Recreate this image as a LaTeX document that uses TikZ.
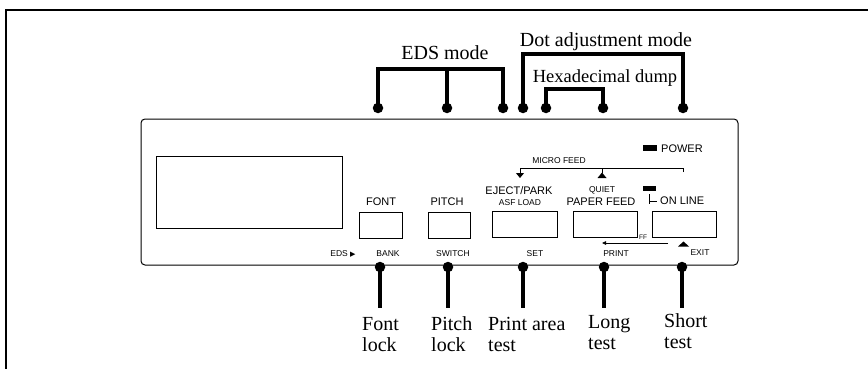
\documentclass[tikz,border=0pt]{standalone}
\usepackage{fontspec}
\setmainfont{Liberation Serif}
\setsansfont{Liberation Sans}
\newfontfamily\symfont{DejaVu Sans}
\usetikzlibrary{arrows.meta,positioning}

\begin{document}
\begin{tikzpicture}[
      x=1pt, y=-1pt,
      frame/.style={line width=1.2pt},
      panel/.style={draw, rounded corners=4pt, line width=1pt, inner sep=0pt},
      key/.style={draw, line width=1pt, minimum height=26pt, inner sep=0pt},
      big/.style={font=\sffamily\fontsize{11}{12}\selectfont, inner sep=0pt},
      small/.style={font=\sffamily\fontsize{8.5}{10}\selectfont, inner sep=0pt},
      tiny/.style={font=\sffamily\fontsize{6.5}{7}\selectfont, inner sep=0pt},
      call/.style={font=\fontsize{20}{21}\selectfont, inner sep=0pt, align=left},
      pin/.style={line width=3.4pt},
      dot/.style={circle, fill, inner sep=0pt, minimum size=10.5pt},
      thinline/.style={line width=0.8pt},
    ]
    \useasboundingbox (0,0) rectangle (868,369);
    \draw[frame] (868,10) -- (6,10) -- (6,369);

    % front panel
    \node[panel, minimum width=597pt, minimum height=146pt] (panel) at (439.5,192) {};
    \node[key, minimum width=186pt, minimum height=72pt] (display) at (249,192) {};

    \node[key, minimum width=43pt] (fontkey) at (380.5,225) {};
    \node[key, minimum width=42pt] (pitchkey) at (449,225) {};
    \node[key, minimum width=65pt] (ejectkey) at (524.5,224) {};
    \node[key, minimum width=64pt] (paperkey) at (605,224) {};
    \node[key, minimum width=64pt] (onlinekey) at (684,224) {};

    \node[big, anchor=base] (font) at (381,205.5) {FONT};
    \node[big, anchor=base] (pitch) at (447,205.5) {PITCH};
    \node[small, anchor=base] (asf) at (520,205) {ASF LOAD};
    \node[big, anchor=base] (eject) at (519,194) {EJECT/PARK};
    \node[big, anchor=base] (paper) at (601,205) {PAPER FEED};
    \node[small, anchor=base] (quiet) at (602,192.5) {QUIET};
    \node[big, anchor=base west] (online) at (660,204) {ON LINE};
    \node[tiny, anchor=base west] (ff) at (639,239) {FF};

    % lamps
    \node[fill, minimum width=13pt, minimum height=5.5pt, inner sep=0pt] (onlinelamp) at (649.5,188.5) {};
    \draw[thinline] (onlinelamp.south) ++(0,3) coordinate (olbend) -- (olbend |- online.base) ++(0,-3) -- ++(7,0);
    \node[fill, minimum width=14pt, minimum height=6pt, inner sep=0pt] (powerlamp) at (650,148) {};
    \node[big, anchor=base west] (power) at (661,152) {POWER};

    % micro feed marks
    \node[small, anchor=base] (micro) at (559,163) {MICRO FEED};
    \draw[thinline, -{Triangle[width=8pt,length=5pt]}] (683,172) -- (683,168) -- (520,168) -- (520,178);
    \draw[thinline] (602,168) -- (602,173);
    \fill (597.5,178) -- (606.5,178) -- (602,172.5) -- cycle;

    % bottom row labels
    \node[small, anchor=base] (eds) at (343,256.5) {EDS {\symfont\fontsize{7}{8}\selectfont ▶}};
    \node[small, anchor=base] (bank) at (388,256.5) {BANK};
    \node[small, anchor=base] (switch) at (453,256.5) {SWITCH};
    \node[small, anchor=base] (set) at (535,256) {SET};
    \node[small, anchor=base] (print) at (616,256) {PRINT};
    \node[small, anchor=base] (exit) at (700,255.5) {EXIT};
    \draw[thinline, -{Triangle[width=3.5pt,length=4pt]}] (668,243) -- (602,243);
    \fill (678,246.5) -- (689,246.5) -- (683.5,241.5) -- cycle;

    % top callouts
    \node[call, anchor=base] (edsmode) at (445,60) {EDS mode};
    \node[call, anchor=base] (dotmode) at (606,47) {Dot adjustment mode};
    \node[call, anchor=base, font=\fontsize{18.5}{20}\selectfont] (hexdump) at (605,83) {Hexadecimal dump};

    \node[dot] (e1) at (378,108) {};
    \node[dot] (e2) at (447,108) {};
    \node[dot] (e3) at (503,108) {};
    \node[dot] (d1) at (523,108) {};
    \node[dot] (h1) at (546,108) {};
    \node[dot] (h2) at (603,108) {};
    \node[dot] (d2) at (683,108) {};
    \coordinate (edsbar) at (503,69);
    \coordinate (dotbar) at (683,54);
    \coordinate (hexbar) at (603,89);
    \draw[pin] (e1.center) |- (edsbar) -- (e3.center);
    \draw[pin] (e2.center) -- (e2 |- edsbar);
    \draw[pin] (d1.center) |- (dotbar) -- (d2.center);
    \draw[pin] (h1.center) |- (hexbar) -- (h2.center);

    % bottom callouts
    \node[dot] (p1) at (380,267) {};
    \node[dot] (p2) at (448,267) {};
    \node[dot] (p3) at (523,267) {};
    \node[dot] (p4) at (604,267) {};
    \node[dot] (p5) at (682,267) {};
    \coordinate (pinend) at (0,308);
    \draw[pin] (p1.center) -- (p1 |- pinend);
    \draw[pin] (p2.center) -- (p2 |- pinend);
    \draw[pin] (p3.center) -- (p3 |- pinend);
    \draw[pin] (p4.center) -- (p4 |- pinend);
    \draw[pin] (p5.center) -- (p5 |- pinend);

    % anchored on the baseline of the second line
    \node[call, anchor=base west] (fontlock) at (362,351) {Font\\lock};
    \node[call, anchor=base west] (pitchlock) at (431,351) {Pitch\\lock};
    \node[call, anchor=base west] (areatest) at (488,351) {Print area\\test};
    \node[call, anchor=base west] (longtest) at (588,349) {Long\\test};
    \node[call, anchor=base west] (shorttest) at (664,348) {Short\\test};
  \end{tikzpicture}
\end{document}
